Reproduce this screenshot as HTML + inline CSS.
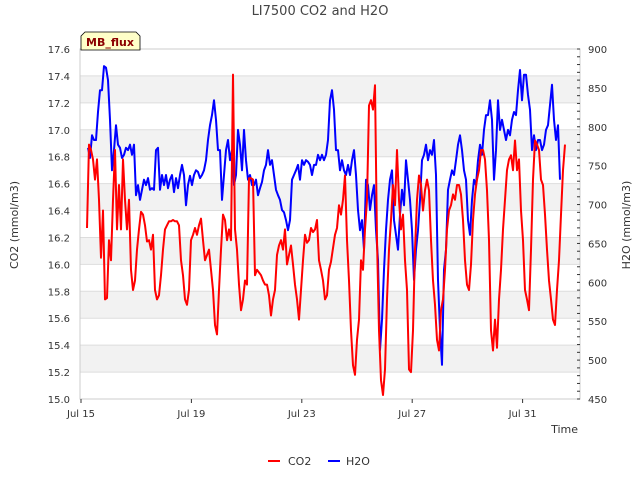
<!DOCTYPE html>
<html><head><meta charset="utf-8">
<style>
body{margin:0;background:#fff;font-family:"Liberation Sans","DejaVu Sans",sans-serif;}
svg text{font-family:"DejaVu Sans","Liberation Sans",sans-serif;}
</style></head>
<body>
<svg id="chart" width="640" height="480" xmlns="http://www.w3.org/2000/svg">
<text x="320" y="15" text-anchor="middle" font-size="13" fill="#444">LI7500 CO2 and H2O</text>
<g id="bands"></g>
<g id="grid"></g>
<rect x="80" y="49" width="500" height="350" fill="none" stroke="#ccc"/>
<g id="axes"></g>
<g id="series"></g>
<g>
<path d="M81,50 L81,36 L85,32 L136,32 L140,36 L140,50 Z" fill="#ffffc8" stroke="#000" stroke-width="0.8"/>
<text x="110" y="46" text-anchor="middle" font-size="11" font-weight="bold" fill="#8b0000">MB_flux</text>
</g>
<text transform="translate(18,225) rotate(-90)" text-anchor="middle" font-size="11" fill="#333">CO2 (mmol/m3)</text>
<text transform="translate(630,225) rotate(-90)" text-anchor="middle" font-size="11" fill="#333">H2O (mmol/m3)</text>
<text x="578" y="433" text-anchor="end" font-size="11" fill="#333">Time</text>
<g>
<line x1="268" y1="461" x2="280" y2="461" stroke="#f00" stroke-width="2"/>
<text x="288" y="465" font-size="11" fill="#333">CO2</text></g>
<g>
<line x1="328" y1="461" x2="340" y2="461" stroke="#00f" stroke-width="2"/>
<text x="346" y="465" font-size="11" fill="#333">H2O</text></g>
</svg>
<script>
const xTickLabels=["Jul 15","Jul 19","Jul 23","Jul 27","Jul 31"];
const xTickDays=[15,19,23,27,31];
const co2Ticks=[15.0,15.2,15.4,15.6,15.8,16.0,16.2,16.4,16.6,16.8,17.0,17.2,17.4,17.6];
const h2oTicks=[450,500,550,600,650,700,750,800,850,900];
const co2Start=15.217, h2oStart=15.254, sampleStep=0.07246;
const co2Values=[16.27,16.89,16.85,16.78,16.63,16.78,16.48,16.05,16.40,
15.74,15.75,16.18,16.03,16.48,16.85,16.26,16.59,16.26,16.78,16.48,16.26,16.48,15.96,15.81,15.88,16.11,16.26,16.39,16.37,16.29,16.17,16.18,16.11,16.22,15.81,15.74,15.77,15.92,16.11,16.26,16.29,16.32,16.32,16.33,16.32,16.32,16.29,16.03,15.92,15.74,15.70,15.81,16.18,16.22,16.27,16.22,16.29,16.34,16.18,16.03,16.07,16.11,15.96,15.81,15.55,15.48,15.81,16.11,16.37,16.33,16.18,16.26,16.18,17.41,16.26,16.11,15.85,15.66,15.74,15.88,15.85,16.64,16.64,16.63,15.92,15.96,15.94,15.92,15.88,15.85,15.85,15.77,15.62,15.74,15.81,16.07,16.14,16.18,16.11,16.26,16.00,16.07,16.14,16.00,15.85,15.74,15.59,15.81,16.03,16.22,16.16,16.18,16.27,16.24,16.26,16.33,16.03,15.96,15.88,15.74,15.77,15.96,16.02,16.12,16.22,16.27,16.44,16.37,16.48,16.66,16.18,15.88,15.51,15.25,15.18,15.44,15.59,16.03,15.96,16.26,16.48,17.18,17.22,17.15,17.33,16.18,15.51,15.14,15.03,15.22,15.74,16.11,16.33,16.59,16.44,16.85,16.48,16.26,16.37,16.03,15.81,15.22,15.20,15.51,16.11,16.48,16.66,16.59,16.40,16.55,16.63,16.55,16.18,15.88,15.70,15.44,15.36,15.66,15.74,15.96,16.26,16.40,16.44,16.52,16.48,16.59,16.59,16.52,16.33,16.03,15.85,15.81,16.00,16.33,16.52,16.63,16.70,16.85,16.85,16.78,16.55,16.18,15.51,15.36,15.59,15.38,15.74,15.96,16.26,16.48,16.70,16.78,16.81,16.70,16.92,16.70,16.78,16.40,16.18,15.81,15.74,15.66,16.11,16.63,16.92,16.89,16.85,16.63,16.59,16.37,16.11,15.88,15.74,15.59,15.55,15.81,16.03,16.37,16.70,16.89];
const h2oValues=[773,760,789,783,783,819,847,847,878,876,860,
809,744,770,802,777,773,760,764,773,770,777,764,777,712,725,706,719,732,725,734,719,721,719,770,773,719,738,725,738,721,732,738,716,734,721,738,751,738,699,725,737,725,738,744,742,734,738,744,757,783,802,815,834,809,770,770,706,738,770,783,757,770,725,738,796,777,744,796,757,732,738,725,725,732,712,721,729,744,751,770,751,757,738,719,712,706,693,690,680,667,680,732,738,744,751,732,757,751,757,755,751,738,751,751,764,757,764,757,764,783,834,847,822,770,770,744,757,744,738,751,738,757,770,738,693,667,680,642,732,725,693,712,725,667,629,513,552,616,667,706,732,744,680,661,642,687,719,699,757,732,706,667,603,642,667,706,757,764,777,757,770,764,783,738,603,539,494,616,642,719,732,744,738,757,777,789,770,744,732,680,661,706,732,725,757,777,764,796,815,815,834,809,732,770,834,796,809,796,783,796,789,809,819,815,847,873,834,867,867,841,822,770,789,770,783,783,770,777,796,802,828,854,809,783,802,732];

const NS="http://www.w3.org/2000/svg";
const L=80,R=580,T=49,B=399;
function xs(d){return 81+(d-15)*27.6;}
function yl(v){return B-(v-15.0)/(17.6-15.0)*(B-T);}
function yr(v){return B-(v-450)/(900-450)*(B-T);}
function mk(tag,attrs,parent){const e=document.createElementNS(NS,tag);for(const k in attrs)e.setAttribute(k,attrs[k]);parent.appendChild(e);return e;}
const bands=document.getElementById('bands'),grid=document.getElementById('grid'),axes=document.getElementById('axes'),series=document.getElementById('series');
for(let i=0;i<co2Ticks.length-1;i++){
  if(i%2===1){const r=mk('rect',{x:L,y:yl(co2Ticks[i+1]),width:R-L,height:yl(co2Ticks[i])-yl(co2Ticks[i+1]),fill:'#f2f2f2'},bands);
  
  }
}
co2Ticks.forEach(v=>{
  const y=yl(v);
  const g=mk('line',{x1:L,x2:R,y1:y,y2:y,stroke:'#ddd','stroke-width':1},grid);
  
  
  const t=mk('text',{x:70,y:y+4,'text-anchor':'end','font-size':10,fill:'#333'},axes);
  
  
  t.textContent=v.toFixed(1);
});
h2oTicks.forEach(v=>{
  const y=yr(v);
  const t=mk('text',{x:588,y:y+4,'font-size':10,fill:'#333'},axes);
  
  
  t.textContent=v;
});
for(let v=450;v<=900;v+=10){const y=yr(v);
  const m=mk('line',{x1:R-3,x2:R,y1:y,y2:y,stroke:'#333','stroke-width':1},axes);
  
  }
xTickDays.forEach((d,i)=>{
  const x=xs(d);
  const m=mk('line',{x1:x,x2:x,y1:B,y2:B+4,stroke:'#333'},axes);
  
  
  const t=mk('text',{x:x,y:417,'text-anchor':'middle','font-size':10,fill:'#333'},axes);
  
  
  t.textContent=xTickLabels[i];
});
function path(vals,start,yf,color,name){
  const d=vals.map((v,i)=>(i?'L':'M')+xs(start+i*sampleStep).toFixed(1)+','+yf(v).toFixed(1)).join(' ');
  const p=mk('path',{d:d,fill:'none',stroke:color,'stroke-width':2,'stroke-linejoin':'round'},series);
  
  
}
path(h2oValues,h2oStart,yr,'#0000ff','h2o-line');
path(co2Values,co2Start,yl,'#ff0000','co2-line');
</script>
</body></html>
